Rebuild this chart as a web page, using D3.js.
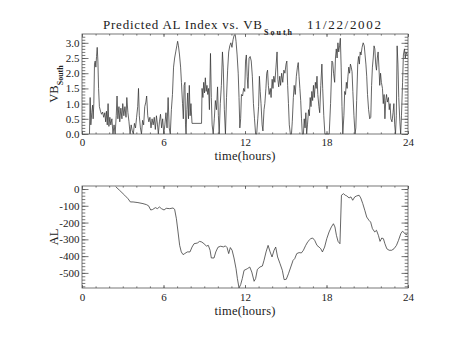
<!DOCTYPE html>
<html>
<head>
<meta charset="utf-8">
<script src="https://cdn.jsdelivr.net/npm/d3@7"></script>
<style>
  html, body { margin: 0; padding: 0; background: #fff; }
  svg { display: block; }
  text { font-family: "Liberation Serif", "DejaVu Serif", serif; fill: #222; }
</style>
</head>
<body>
<svg id="chart" width="453" height="340"></svg>
<script>
// Time axis (hours, UT)
const hourTicks = [0, 6, 12, 18, 24];
const hourMinorTicks = d3.range(0, 25, 1);

// V*Bs (southward IMF driver), hours and values
const vbHours = [
  0.55,0.6,0.65,0.72,0.78,0.82,0.87,0.92,0.97,1.02,1.07,1.12,1.17,1.22,1.28,1.36,1.44,1.52,1.6,1.68,
  1.74,1.8,1.86,1.92,1.98,2.05,2.12,2.2,2.28,2.36,2.44,2.52,2.58,2.64,2.72,2.78,2.86,2.94,3.0,3.08,
  3.16,3.24,3.3,3.38,3.46,3.54,3.62,3.7,3.78,3.86,3.94,4.02,4.1,4.16,4.22,4.3,4.38,4.46,4.54,4.62,
  4.7,4.76,4.84,4.92,5.0,5.08,5.16,5.24,5.32,5.4,5.48,5.56,5.62,5.7,5.78,5.86,5.94,6.02,6.1,6.18,
  6.26,6.34,6.42,6.5,6.58,6.66,6.74,6.82,6.9,6.98,7.04,7.1,7.18,7.26,7.32,7.4,7.46,7.52,7.58,7.62,
  7.66,7.72,7.78,7.84,7.9,7.96,8.02,8.1,8.8,8.84,8.9,8.96,9.02,9.08,9.14,9.2,9.26,9.32,9.38,9.46,
  9.52,9.58,9.66,9.74,9.82,9.9,9.98,10.04,10.1,10.18,10.26,10.34,10.4,10.48,10.56,10.64,10.72,10.8,10.88,10.96,
  11.04,11.12,11.2,11.28,11.34,11.42,11.5,11.56,11.62,11.68,11.74,11.82,11.9,11.98,12.04,12.1,12.16,12.22,12.3,12.38,
  12.46,12.54,12.62,12.7,12.78,12.86,12.94,13.0,13.06,13.12,13.18,13.26,13.32,13.4,13.46,13.54,13.6,13.66,13.72,13.78,
  13.86,13.92,14.0,14.06,14.12,14.2,14.28,14.36,14.42,14.48,14.56,14.62,14.7,14.78,14.86,14.94,15.02,15.08,15.14,15.2,
  15.26,15.34,15.42,15.48,15.56,15.62,15.7,15.78,15.86,15.92,15.98,16.04,16.1,16.16,16.22,16.3,16.36,16.42,16.48,16.54,
  16.6,16.68,16.74,16.8,16.86,16.92,16.98,17.04,17.1,17.18,17.24,17.3,17.36,17.44,17.5,17.58,17.66,17.72,17.8,17.88,
  17.96,18.1,18.2,18.3,18.4,18.46,18.52,18.6,18.66,18.72,18.78,18.84,18.9,18.96,19.02,19.08,19.14,19.2,19.28,19.34,
  19.4,19.46,19.52,19.58,19.64,19.7,19.76,19.82,19.88,19.94,20.02,20.1,20.16,20.22,20.3,20.36,20.42,20.48,20.54,20.62,
  20.7,20.78,20.84,20.9,20.96,21.02,21.1,21.18,21.26,21.32,21.38,21.44,21.5,21.56,21.62,21.68,21.74,21.8,21.86,21.92,
  21.98,22.04,22.12,22.18,22.24,22.3,22.36,22.42,22.48,22.56,22.62,22.68,22.74,22.82,22.9,22.96,23.02,23.08,23.14,23.2,
  23.26,23.32,23.4,23.46,23.52,23.6,23.66,23.74,23.8,23.86,23.94
];
const vbValues = [
  0,1.2,0.3,0.7,0.95,0.5,1.0,2.3,2.4,2.2,2.55,2.85,2.4,1.5,0.9,0.75,0.65,0.72,0.55,0.7,
  0.4,0.75,0.3,1.0,0.25,0.55,0.3,0.5,0.0,0.3,0.0,0.6,1.25,0.5,0.9,0.4,0.85,0.5,1.0,0.6,
  0.9,0.55,1.2,0.7,0.4,0.0,0.3,0.1,0.0,0.35,0.2,0.55,0.9,1.5,0.6,0.2,0.0,0.45,0.3,0.9,
  1.05,1.25,0.6,0.4,0.55,0.2,0.5,0.3,0.55,0.15,0.6,0.3,0.0,0.4,0.65,0.2,0.5,0.0,0.3,0.7,
  0.2,1.2,0.2,0.0,0.8,1.3,2.2,2.5,2.7,2.9,3.05,2.9,2.6,2.2,1.7,1.0,0.5,1.6,1.7,0.3,
  0.0,0.8,1.35,0.5,1.6,0.6,1.0,0.35,0.35,1.5,1.2,1.7,1.35,1.85,1.4,1.6,1.3,1.5,0.8,2.65,
  1.2,0.3,0.0,0.5,1.1,0.8,1.55,0.6,0.0,1.0,1.6,2.7,2.2,0.8,0.0,1.2,2.1,2.7,2.9,3.0,
  2.85,3.1,3.25,3.27,3.05,2.6,2.0,1.2,0.2,0.5,1.3,1.25,1.5,1.4,2.4,2.6,1.9,1.5,2.5,2.55,
  2.4,1.9,1.0,0.5,0.0,0.0,0.5,0.9,1.9,1.4,1.0,0.3,0.1,0.8,1.0,1.5,2.0,2.1,1.6,1.3,
  1.5,1.2,1.8,1.5,1.9,1.7,2.2,2.7,1.8,1.55,1.9,1.6,2.0,1.7,2.1,2.0,2.3,2.4,1.6,1.0,
  0.3,0.0,0.0,0.4,1.2,1.6,1.3,1.9,2.2,2.35,1.9,1.5,1.1,0.5,0.0,0.0,0.5,0.2,0.7,0.0,
  0.3,0.8,0.6,1.2,0.9,1.4,1.1,1.6,1.2,1.7,1.5,1.9,1.3,0.9,0.7,1.6,2.3,1.5,0.6,0.0,
  0.0,0.0,0.0,1.0,2.4,2.35,2.0,1.7,2.5,2.8,2.5,3.0,2.7,2.9,3.15,2.2,0.9,0.0,0.6,1.4,
  1.3,1.7,1.5,1.9,2.2,2.0,2.3,2.2,2.05,1.4,0.6,0.0,0.2,1.1,2.3,2.55,2.3,2.7,2.6,2.85,
  3.0,2.9,2.6,2.3,1.9,1.3,0.8,0.5,0.55,1.6,2.2,2.5,2.9,2.8,2.3,2.1,2.5,2.7,2.2,1.6,
  2.0,1.7,1.5,1.0,1.3,0.5,1.1,1.3,1.05,1.2,0.8,1.0,0.5,0.4,0.7,1.0,0.3,0.0,0.6,2.9,
  2.3,1.2,0.4,0.0,0.6,1.7,2.6,2.8,2.5,2.7,2.6
];
const vbTicks = [0, 0.5, 1.0, 1.5, 2.0, 2.5, 3.0];
const vbMinorTicks = d3.range(0, 33).map(i => i / 10);

// Predicted AL index (nT), hours and values
const alHours = [
  2.48,2.77,3.14,3.39,3.56,3.76,4.12,4.49,4.74,4.9,5.06,5.2,5.4,5.55,5.7,5.85,6.04,6.2,6.46,6.7,
  6.82,6.95,7.07,7.19,7.31,7.44,7.56,7.75,7.95,8.1,8.25,8.49,8.66,8.82,8.98,9.16,9.3,9.43,9.52,9.72,
  9.85,10.01,10.21,10.41,10.56,10.68,10.8,10.92,11.05,11.19,11.34,11.44,11.56,11.68,11.8,11.93,12.17,12.35,12.5,12.67,
  12.78,12.91,13.1,13.28,13.4,13.55,13.7,13.85,13.99,14.14,14.26,14.4,14.58,14.75,14.88,15.04,15.2,15.37,15.54,15.66,
  15.81,15.98,16.15,16.3,16.47,16.64,16.84,16.98,17.13,17.3,17.45,17.58,17.7,17.86,18.02,18.19,18.36,18.51,18.62,18.73,
  18.85,18.99,19.1,19.25,19.38,19.49,19.66,19.8,19.93,20.08,20.23,20.4,20.52,20.67,20.82,20.96,21.13,21.25,21.38,21.55,
  21.68,21.82,21.94,22.07,22.19,22.3,22.44,22.61,22.8,22.97,23.15,23.3,23.47,23.59,23.72,23.84,23.94
];
const alValues = [
  14,-8,-37,-58,-77,-77,-81,-87,-93,-100,-125,-122,-111,-117,-107,-117,-125,-115,-117,-113,
  -121,-177,-256,-336,-375,-391,-385,-375,-375,-346,-326,-322,-312,-316,-326,-340,-336,-365,-411,-411,
  -375,-347,-341,-345,-339,-349,-385,-349,-365,-411,-475,-534,-590,-570,-534,-485,-475,-465,-495,-550,
  -534,-479,-465,-459,-425,-375,-336,-375,-405,-365,-346,-405,-445,-485,-540,-538,-505,-465,-425,-415,
  -385,-379,-381,-365,-336,-312,-296,-292,-306,-336,-346,-356,-375,-346,-296,-256,-226,-207,-226,-276,
  -312,-326,-37,-28,-37,-41,-53,-47,-67,-47,-41,-37,-53,-87,-127,-167,-187,-197,-236,-256,
  -246,-276,-312,-292,-296,-326,-356,-365,-365,-356,-336,-306,-266,-252,-260,-272,-272
];
const alTicks = [0, -100, -200, -300, -400, -500];
const alMinorTicks = d3.range(-580, 1, 20);

const svg = d3.select("#chart");
const axisColor = "#555";
const lineColor = "#333";
const tickFont = 11;

const x = d3.scaleLinear().domain([0, 24]).range([82, 408]);

function drawPanel(cfg) {
  const { y, top, bottom, majorY, minorY, fmt, hours, values, xLabelY, tickLabelY } = cfg;
  const g = svg.append("g");
  const w = 408 - 82, h = bottom - top;
  const yMajorLen = 6.5, yMinorLen = 3.3, xMajorLen = 3, xMinorLen = 1.6;

  // data trace
  const line = d3.line().x((d, i) => x(hours[i])).y(d => y(d));
  g.append("path")
    .datum(values)
    .attr("d", line)
    .attr("fill", "none")
    .attr("stroke", lineColor)
    .attr("stroke-width", 0.75)
    .attr("stroke-linejoin", "round");

  const styleAxis = sel => {
    sel.select(".domain").remove();
    sel.selectAll(".tick line").attr("stroke", axisColor).attr("stroke-width", 0.8);
    sel.selectAll(".tick text").attr("fill", "#222")
      .style("font-family", '"Liberation Serif", "DejaVu Serif", serif')
      .style("font-size", tickFont + "px");
  };

  // left & right y axes (ticks point inward)
  g.append("g").attr("transform", "translate(82,0)")
    .call(d3.axisLeft(y).tickValues(majorY).tickFormat(fmt).tickSizeInner(-yMajorLen).tickSizeOuter(0).tickPadding(2.5))
    .call(styleAxis);
  g.append("g").attr("transform", "translate(82,0)")
    .call(d3.axisLeft(y).tickValues(minorY).tickFormat("").tickSizeInner(-yMinorLen).tickSizeOuter(0))
    .call(styleAxis);
  g.append("g").attr("transform", "translate(408,0)")
    .call(d3.axisRight(y).tickValues(majorY).tickFormat("").tickSizeInner(-yMajorLen).tickSizeOuter(0))
    .call(styleAxis);
  g.append("g").attr("transform", "translate(408,0)")
    .call(d3.axisRight(y).tickValues(minorY).tickFormat("").tickSizeInner(-yMinorLen).tickSizeOuter(0))
    .call(styleAxis);

  // bottom & top x axes
  const xb = g.append("g").attr("transform", `translate(0,${bottom})`)
    .call(d3.axisBottom(x).tickValues(hourTicks).tickFormat(d3.format("d")).tickSizeInner(-xMajorLen).tickSizeOuter(0).tickPadding(0))
    .call(styleAxis);
  xb.selectAll(".tick text").attr("y", null).attr("dy", null).attr("transform", `translate(0,${tickLabelY - bottom})`);
  g.append("g").attr("transform", `translate(0,${bottom})`)
    .call(d3.axisBottom(x).tickValues(hourMinorTicks).tickFormat("").tickSizeInner(-xMinorLen).tickSizeOuter(0))
    .call(styleAxis);
  g.append("g").attr("transform", `translate(0,${top})`)
    .call(d3.axisTop(x).tickValues(hourTicks).tickFormat("").tickSizeInner(-xMajorLen).tickSizeOuter(0))
    .call(styleAxis);
  g.append("g").attr("transform", `translate(0,${top})`)
    .call(d3.axisTop(x).tickValues(hourMinorTicks).tickFormat("").tickSizeInner(-xMinorLen).tickSizeOuter(0))
    .call(styleAxis);

  // frame
  g.append("rect")
    .attr("x", 82).attr("y", top).attr("width", w).attr("height", h)
    .attr("fill", "none").attr("stroke", axisColor).attr("stroke-width", 0.8);

  // x title
  g.append("text")
    .attr("x", 245).attr("y", xLabelY)
    .attr("text-anchor", "middle")
    .attr("font-size", 12.5)
    .attr("textLength", 61).attr("lengthAdjust", "spacing")
    .text("time(hours)");
  return g;
}

// Upper panel: VB_South
const yVb = d3.scaleLinear().domain([0, 3.29]).range([134, 34]);
drawPanel({
  y: yVb, top: 34, bottom: 134, majorY: vbTicks, minorY: vbMinorTicks,
  fmt: d3.format(".1f"), hours: vbHours, values: vbValues,
  xLabelY: 159.5, tickLabelY: 146
});

// Lower panel: AL (plain hyphen for negative labels)
const yAl = d3.scaleLinear().domain([-590, 18]).range([288, 186]);
drawPanel({
  y: yAl, top: 186, bottom: 288, majorY: alTicks, minorY: alMinorTicks,
  fmt: d => String(d), hours: alHours, values: alValues,
  xLabelY: 314.5, tickLabelY: 301
});

// Title
const title = svg.append("g");
title.append("text").attr("x", 103).attr("y", 28.5)
  .attr("font-size", 13).attr("textLength", 159).attr("lengthAdjust", "spacing")
  .text("Predicted AL Index vs. VB");
title.append("text").attr("x", 264).attr("y", 34.5)
  .attr("font-size", 8).attr("font-weight", "bold")
  .attr("textLength", 28).attr("lengthAdjust", "spacing")
  .text("South");
title.append("text").attr("x", 307).attr("y", 28.5)
  .attr("font-size", 13).attr("textLength", 74).attr("lengthAdjust", "spacing")
  .text("11/22/2002");

// Y titles
const vbLabel = svg.append("text")
  .attr("transform", "translate(58,84) rotate(-90)")
  .attr("text-anchor", "middle")
  .attr("font-size", 12.5);
vbLabel.append("tspan").text("VB");
vbLabel.append("tspan").attr("dy", 4.5).attr("font-size", 8).attr("font-weight", "bold").text("South");

svg.append("text")
  .attr("transform", "translate(58,237) rotate(-90)")
  .attr("text-anchor", "middle")
  .attr("font-size", 12.5)
  .text("AL");
</script>
</body>
</html>
